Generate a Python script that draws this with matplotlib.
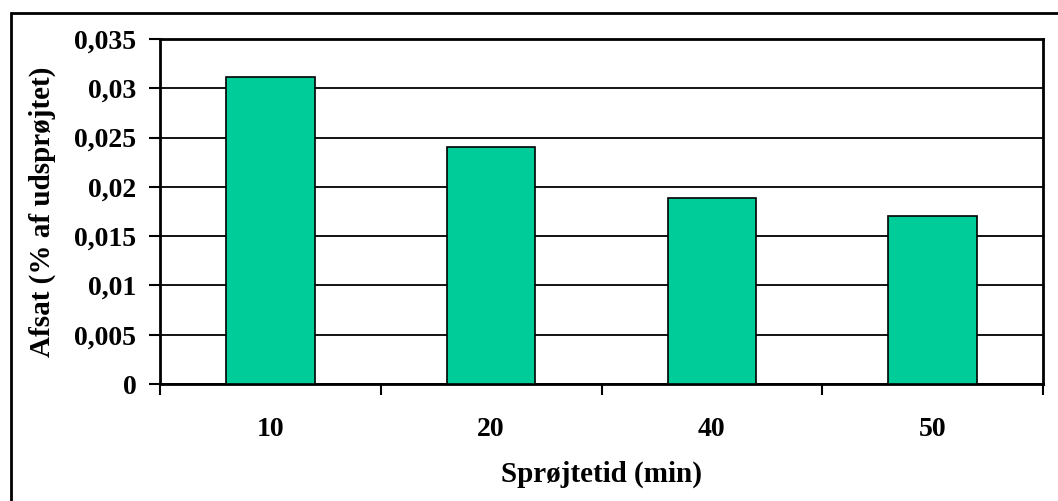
import matplotlib.pyplot as plt
import matplotlib.patches as mpatches
from matplotlib.ticker import FuncFormatter
import numpy as np

categories = ['10', '20', '40', '50']
values = [0.0311, 0.0240, 0.0189, 0.0170]
yticks = [0, 0.005, 0.01, 0.015, 0.02, 0.025, 0.03, 0.035]

plt.rcParams['font.family'] = ['Liberation Serif', 'DejaVu Serif']
plt.rcParams['font.weight'] = 'bold'

W, H = 1058, 501
fig = plt.figure(figsize=(W / 100, H / 100), dpi=100)
ax = fig.add_axes([160 / W, 1 - 384 / H, (1043 - 160) / W, (384 - 39) / H])

# outer chart border
fig.patches.append(mpatches.Rectangle((11 / W, -0.01), 1.02, 1 - 13 / H + 0.01,
                                      transform=fig.transFigure, fill=False,
                                      edgecolor='black', linewidth=2))

x = np.arange(len(categories))
ax.bar(x, values, width=0.4, color='#00CC99', edgecolor='black', linewidth=1.2, zorder=3)

ax.set_xlim(-0.5, len(categories) - 0.5)
ax.set_ylim(0, 0.035)
ax.set_yticks(yticks)
ax.yaxis.set_major_formatter(FuncFormatter(lambda v, p: ('%g' % round(v, 4)).replace('.', ',')))
ax.grid(axis='y', color='black', linewidth=1.3, zorder=0)
ax.set_axisbelow(True)

ax.set_xticks(x)
ax.set_xticklabels(categories)
ax.set_xticks(np.arange(-0.5, len(categories)), minor=True)
ax.tick_params(axis='x', which='major', length=0, pad=24, labelsize=20)
ax.tick_params(axis='x', which='minor', length=8, width=1.5, direction='out')
ax.tick_params(axis='y', length=8, width=1.5, pad=9, labelsize=20)

for s in ax.spines.values():
    s.set_linewidth(2)
    s.set_color('black')

ax.set_xlabel('Sprøjtetid (min)', fontsize=21, fontweight='bold', labelpad=13)
ax.set_ylabel('Afsat (% af udsprøjtet)', fontsize=21, fontweight='bold', labelpad=13)

fig.savefig('out.png', dpi=100)
